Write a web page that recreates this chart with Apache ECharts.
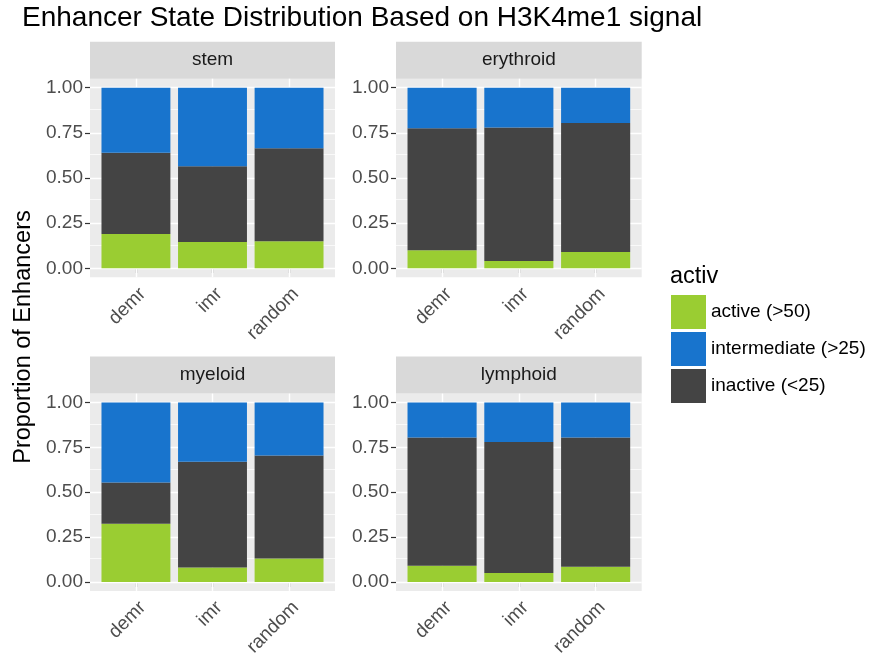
<!DOCTYPE html>
<html>
<head>
<meta charset="utf-8">
<script src="https://cdn.jsdelivr.net/npm/echarts@6/dist/echarts.min.js"></script>
<style>
  html, body { margin: 0; padding: 0; background: #ffffff; }
  #chart { width: 873px; height: 659px; }
</style>
</head>
<body>
<div id="chart"></div>
<script>
// Facets, groups and the share of enhancers in each activity state
const facets = ['stem', 'erythroid', 'myeloid', 'lymphoid'];
const groups = ['demr', 'imr', 'random'];

const active       = [[0.19, 0.145, 0.15], [0.10, 0.04, 0.09], [0.325, 0.08, 0.13], [0.09, 0.05, 0.085]];
const inactive     = [[0.45, 0.42, 0.515], [0.675, 0.74, 0.715], [0.23, 0.59, 0.575], [0.715, 0.73, 0.72]];
const intermediate = [[0.36, 0.435, 0.335], [0.225, 0.22, 0.195], [0.445, 0.33, 0.295], [0.195, 0.22, 0.195]];

const yTicks = [0, 0.25, 0.5, 0.75, 1];
const yMinor = [0.125, 0.375, 0.625, 0.875];

const stateNames = ['active (>50)', 'intermediate (>25)', 'inactive (<25)'];
const stateColors = { 'active (>50)': '#9ACD32', 'intermediate (>25)': '#1874CD', 'inactive (<25)': '#444444' };

// Layout of the 2x2 facet panels
const FONT = '"Liberation Sans", Arial, Helvetica, sans-serif';
const BASE = 19;
const panels = [
  { left: 90,  top: 78.7,  width: 245,   height: 198.6 },
  { left: 396, top: 78.7,  width: 245.7, height: 198.6 },
  { left: 90,  top: 393.6, width: 245,   height: 199 },
  { left: 396, top: 393.6, width: 245.7, height: 199 }
];
const STRIP_H = 37;
const groupPos = groups.map((g, j) => j + 1);

const chart = echarts.init(document.getElementById('chart'), null, { renderer: 'canvas' });

const grid = panels.map(p => ({
  left: p.left, top: p.top, width: p.width, height: p.height,
  show: true, backgroundColor: '#EBEBEB', borderWidth: 0, containLabel: false
}));

const xAxis = panels.map((p, i) => ({
  type: 'value', gridIndex: i, min: 0.4, max: 3.6,
  axisLine: { show: false },
  splitLine: { show: false },
  axisTick: { show: true, length: 5, customValues: groupPos, lineStyle: { color: '#333333', width: 1.2 } },
  axisLabel: {
    customValues: groupPos,
    formatter: v => groups[Math.round(v) - 1],
    rotate: 45, verticalAlign: 'top', align: 'right',
    fontSize: BASE, color: '#4D4D4D', fontFamily: FONT, margin: 7
  }
}));

const yAxis = panels.map((p, i) => ({
  type: 'value', gridIndex: i, min: -0.05, max: 1.05,
  axisLine: { show: false },
  splitLine: { show: false },
  axisTick: { show: true, length: 5, customValues: yTicks, lineStyle: { color: '#333333', width: 1.2 } },
  axisLabel: {
    customValues: yTicks,
    formatter: v => v.toFixed(2),
    fontSize: BASE, color: '#4D4D4D', fontFamily: FONT, margin: 7
  }
}));

// White panel grid lines (major + minor), drawn underneath the bars
function gridLines() {
  return {
    silent: true, symbol: 'none', z: 1, animation: false,
    label: { show: false },
    lineStyle: { color: '#FFFFFF', type: 'solid', width: 1.4 },
    emphasis: { disabled: true },
    data: [
      ...yMinor.map(v => ({ yAxis: v, lineStyle: { width: 0.7, color: '#FFFFFF', type: 'solid' } })),
      ...yTicks.map(v => ({ yAxis: v, lineStyle: { width: 1.4, color: '#FFFFFF', type: 'solid' } })),
      ...groupPos.map(v => ({ xAxis: v, lineStyle: { width: 1.4, color: '#FFFFFF', type: 'solid' } }))
    ]
  };
}

const series = [];
panels.forEach((p, i) => {
  const barW = p.width * 0.9 / 3.2;
  const layers = [
    { name: 'active (>50)', values: active[i] },
    { name: 'inactive (<25)', values: inactive[i] },
    { name: 'intermediate (>25)', values: intermediate[i] }
  ];
  layers.forEach((layer, k) => {
    const s = {
      type: 'bar', name: layer.name, stack: 'panel' + i,
      xAxisIndex: i, yAxisIndex: i, z: 2,
      barWidth: barW,
      // value first so the stack runs along the y dimension
      encode: { x: 1, y: 0 },
      itemStyle: { color: stateColors[layer.name], borderWidth: 0 },
      emphasis: { disabled: true },
      data: layer.values.map((v, j) => [v, groupPos[j]])
    };
    if (k === 0) s.markLine = gridLines();
    series.push(s);
  });
});

// Facet strips
const strips = panels.map((p, i) => ({
  type: 'group',
  children: [
    { type: 'rect', shape: { x: p.left, y: p.top - STRIP_H, width: p.width, height: STRIP_H }, style: { fill: '#D9D9D9' } },
    { type: 'text', x: p.left + p.width / 2, y: p.top - STRIP_H / 2,
      style: { text: facets[i], fontSize: BASE, fontFamily: FONT, fill: '#1A1A1A', textAlign: 'center', textVerticalAlign: 'middle' } }
  ]
}));

chart.setOption({
  animation: false,
  title: {
    text: 'Enhancer State Distribution Based on H3K4me1 signal',
    left: 22, top: 4, padding: 0,
    textStyle: { fontSize: 28, fontWeight: 'normal', color: '#000000', fontFamily: FONT }
  },
  legend: {
    orient: 'vertical', left: 671, top: 295, padding: 0,
    itemWidth: 35, itemHeight: 34, itemGap: 3,
    icon: 'rect', selectedMode: false,
    data: stateNames,
    itemStyle: { borderWidth: 0 },
    textStyle: { fontSize: BASE, color: '#000000', fontFamily: FONT }
  },
  grid, xAxis, yAxis, series,
  graphic: [
    ...strips,
    { type: 'text', x: 24, y: 337, rotation: Math.PI / 2,
      style: { text: 'Proportion of Enhancers', fontSize: 23.5, fontFamily: FONT, fill: '#000000', textAlign: 'center', textVerticalAlign: 'middle' } },
    { type: 'text', x: 670, y: 277,
      style: { text: 'activ', fontSize: 23.5, fontFamily: FONT, fill: '#000000', textAlign: 'left', textVerticalAlign: 'middle' } }
  ]
});
</script>
</body>
</html>
